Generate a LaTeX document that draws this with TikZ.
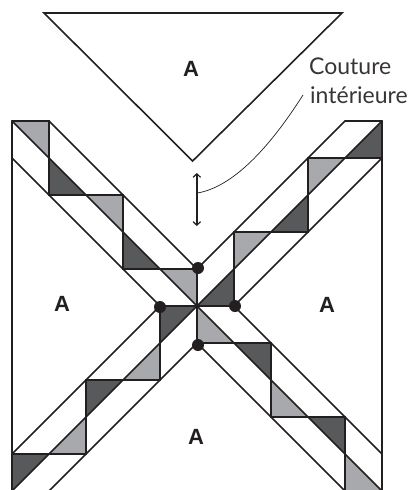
\documentclass[tikz,border=0pt]{standalone}
\usepackage{fontspec}
\setmainfont{Lato}
\newfontfamily\labelfont{Liberation Sans}
\usetikzlibrary{arrows.meta}
\definecolor{ink}{HTML}{231F20}
\definecolor{lightgray}{HTML}{A7A9AC}
\definecolor{darkgray}{HTML}{58595B}
\tikzset{
  x=1pt,y=-1pt,
  seam/.style={draw=ink,line width=1.6pt,line cap=round,line join=miter},
  lighttri/.style={fill=lightgray},
  darktri/.style={fill=darkgray},
  pt/.style={circle,fill=ink,inner sep=0pt,minimum size=12pt},
  letter/.style={font=\labelfont\bfseries\fontsize{22}{22}\selectfont,text=ink,inner sep=0pt},
  caption/.style={font=\fontsize{23}{29}\selectfont,text=ink!90,inner sep=0pt,anchor=base west},
}
\begin{document}
\begin{tikzpicture}
\useasboundingbox (0,0) rectangle (411,490);
\clip (0,0) rectangle (411,490);
% upper left strip
\fill[lighttri] (12,121)--(49,121)--(49,158)--cycle;
\fill[darktri] (49,158)--(49,195)--(86,195)--cycle;
\fill[lighttri] (86,195)--(123,195)--(123,232)--cycle;
\fill[darktri] (123,232)--(123,269)--(160,269)--cycle;
\fill[lighttri] (160,269)--(197,269)--(197,306)--cycle;
% upper right strip
\fill[darktri] (382,121)--(382,158)--(345,158)--cycle;
\fill[lighttri] (308,158)--(345,158)--(308,195)--cycle;
\fill[darktri] (308,195)--(308,232)--(271,232)--cycle;
\fill[lighttri] (234,232)--(271,232)--(234,269)--cycle;
\fill[darktri] (234,269)--(234,306)--(197,306)--cycle;
% lower left strip
\fill[darktri] (160,306)--(197,306)--(160,343)--cycle;
\fill[lighttri] (160,343)--(160,380)--(123,380)--cycle;
\fill[darktri] (86,380)--(123,380)--(86,417)--cycle;
\fill[lighttri] (86,417)--(86,454)--(49,454)--cycle;
\fill[darktri] (12,454)--(49,454)--(12,491)--cycle;
% lower right strip
\fill[lighttri] (197,306)--(197,343)--(234,343)--cycle;
\fill[darktri] (234,343)--(271,343)--(271,380)--cycle;
\fill[lighttri] (271,380)--(271,417)--(308,417)--cycle;
\fill[darktri] (308,417)--(345,417)--(345,454)--cycle;
\fill[lighttri] (345,454)--(345,491)--(382,491)--cycle;
% outer verticals
\draw[seam] (12,121)--(12,492);
\draw[seam] (382,121)--(382,492);
% diagonals
\draw[seam] (49,121)--(197,269);
\draw[seam] (12,121)--(382,491);
\draw[seam] (12,158)--(160,306);
\draw[seam] (345,121)--(197,269);
\draw[seam] (382,121)--(12,491);
\draw[seam] (382,158)--(234,306);
\draw[seam] (12,454)--(160,306);
\draw[seam] (49,491)--(197,343);
\draw[seam] (234,306)--(382,454);
\draw[seam] (197,343)--(345,491);
% stepped seams
\draw[seam] (12,121)--(49,121)--(49,195)--(123,195)--(123,269)--(197,269)--(197,343)--(271,343)--(271,417)--(345,417)--(345,491);
\draw[seam] (345,121)--(382,121);
\draw[seam] (382,158)--(308,158)--(308,232)--(234,232)--(234,306)--(160,306)--(160,380)--(86,380)--(86,454)--(12,454);
% top triangle
\draw[seam,line join=miter] (44,13)--(342,13)--(192.6,161)--cycle;
% dots
\node[pt] (dotn) at (198,268) {};
\node[pt] (dotw) at (160,307) {};
\node[pt] (dote) at (235,306) {};
\node[pt] (dots) at (198,345) {};
% labels
\node[letter] (atop) at (191,69) {A};
\node[letter] (aleft) at (62,303.5) {A};
\node[letter] (aright) at (327,304.5) {A};
\node[letter] (abot) at (196,437) {A};
\node[caption] (cap1) at (309,74) {Couture};
\node[caption] (cap2) at (310,103) {intérieure};
% callout
\coordinate (arrowtop) at (196.8,173);
\coordinate (arrowbot) at (196.8,226);
\coordinate (leadstart) at (197.5,193);
\coordinate (leadend) at (303,95);
\draw[draw=ink,line width=1.5pt,{Straight Barb[length=3.5pt,width=7.5pt,line width=1.2pt]}-{Straight Barb[length=3.5pt,width=7.5pt,line width=1.2pt]}] (arrowtop)--(arrowbot);
\draw[draw=ink,line width=0.7pt] (leadstart) .. controls (232,187) and (268,150) .. (leadend);
\end{tikzpicture}
\end{document}
